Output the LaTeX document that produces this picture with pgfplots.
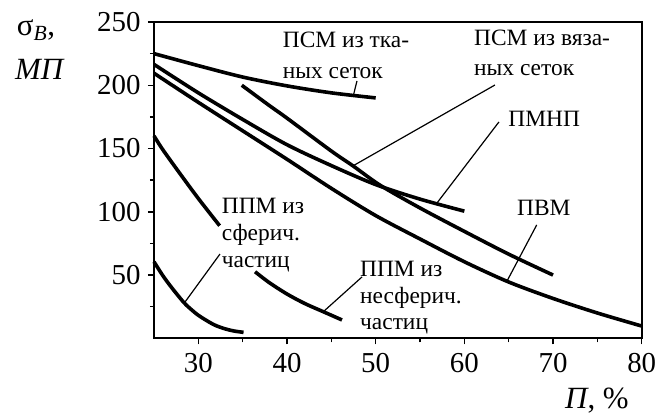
\documentclass[border=0pt]{standalone}
\usepackage{pgfplots}
\pgfplotsset{compat=1.18}
\usepackage{fontspec}
\setmainfont{Liberation Serif}
\newcommand\lab{\fontsize{23.5}{28}\selectfont}
\newcommand\axl{\fontsize{31}{36}\selectfont}
\begin{document}
\begin{tikzpicture}
\begin{axis}[
  scale only axis,
  width=487.7bp, height=316.3bp,
  xmin=25, xmax=80, ymin=0, ymax=250,
  xtick={30,40,...,80}, ytick={50,100,...,250},
  minor xtick={35,45,...,75}, minor ytick={25,75,...,225},
  tick align=outside,
  tick pos=left,
  major tick length=6bp, minor tick length=4bp,
  every tick/.style={black, line width=1.5bp},
  axis line style={line width=2bp},
  ticklabel style={font=\fontsize{29}{34}\selectfont},
  xticklabel style={yshift=-5bp},
  yticklabel style={xshift=-4bp},
  /pgf/number format/assume math mode=true,
  clip=false,
  cycle list={{black, solid, no markers}},
  every axis plot post/.append style={line width=3.6bp, smooth, no markers, black},
]
% ПСМ из тканых сеток
\addplot coordinates {(25,225) (30,215.5) (35,206.5) (40,199.5) (45,194) (50,190)};
% ПСМ из вязаных сеток
\addplot coordinates {(34.9,200) (38,184) (40,174) (45,148) (47.5,136) (50.5,121) (55,103) (60,84.5) (65,66.5) (70,50)};
% ПМНП
\addplot coordinates {(25,216.5) (30,194) (35,173) (40,153) (45,136.5) (50,121.5) (55,110) (60,100.5)};
% ПВМ
\addplot coordinates {(25,209.5) (30,186.5) (35,164) (40,141.5) (45,118.5) (50,97) (55,78.5) (60,60.5) (65,44.5) (70,31.5) (75,20) (80,9.7)};
% ППМ из несферич. частиц (two visible pieces)
\addplot coordinates {(25,160) (26,149) (28,129.5) (30,110.5) (32.4,89)};
\addplot coordinates {(36.4,52.6) (38,44) (40,35) (42,27.5) (44.1,21) (46.2,14.5)};
% ППМ из сферич. частиц
\addplot coordinates {(25,60.5) (26,49.5) (27,40) (28.3,28.8) (29,24) (30,18.2) (31.3,12.5) (32,10) (33,7.5) (34,5.8) (35.1,4.7)};

% frame
\draw[line width=2bp] (rel axis cs:0,0) rectangle (rel axis cs:1,1);

% leader lines
\draw[line width=1.2bp] (axis cs:47.89,203.4) -- (axis cs:47.50,192.3);
\draw[line width=1.2bp] (axis cs:63.45,200.2) -- (axis cs:47.47,136.4);
\draw[line width=1.2bp] (axis cs:63.90,171.0) -- (axis cs:56.91,106.9);
\draw[line width=1.2bp] (axis cs:68.16,89.6) -- (axis cs:64.77,44.7);
\draw[line width=1.2bp] (axis cs:32.44,66.6) -- (axis cs:28.50,28.7);
\draw[line width=1.2bp] (axis cs:48.46,48.5) -- (axis cs:44.06,20.8);

% labels
\node[anchor=base west, inner sep=0, font=\lab] at (axis cs:39.51,230.2) {ПСМ из тка-};
\node[anchor=base west, inner sep=0, font=\lab] at (axis cs:39.51,205.7) {ных сеток};
\node[anchor=base west, inner sep=0, font=\lab] at (axis cs:61.09,231.8) {ПСМ из вяза-};
\node[anchor=base west, inner sep=0, font=\lab] at (axis cs:61.09,208.1) {ных сеток};
\node[anchor=base west, inner sep=0, font=\lab] at (axis cs:64.95,167.2) {ПМНП};
\node[anchor=base west, inner sep=0, font=\lab] at (axis cs:65.93,96.7) {ПВМ};
\node[anchor=base west, inner sep=0, font=\lab] at (axis cs:32.63,98.8) {ППМ из};
\node[anchor=base west, inner sep=0, font=\lab] at (axis cs:32.63,77.3) {сферич.};
\node[anchor=base west, inner sep=0, font=\lab] at (axis cs:32.63,55.6) {частиц};
\node[anchor=base west, inner sep=0, font=\lab] at (axis cs:48.23,49.2) {ППМ из};
\node[anchor=base west, inner sep=0, font=\lab] at (axis cs:48.23,27.9) {несферич.};
\node[anchor=base west, inner sep=0, font=\lab] at (axis cs:48.23,6.6) {частиц};

% axis labels
\node[anchor=base west, inner sep=0, font=\axl] at (axis cs:9.52,239.7) {σ\textsubscript{\textit{B}},};
\node[anchor=base west, inner sep=0, font=\axl] at (axis cs:9.33,204.2) {\textit{МП}};
\node[anchor=base west, inner sep=0, font=\axl] at (axis cs:71.35,-55.1) {\textit{П}, \%};
\end{axis}
\pgfresetboundingbox
\path[use as bounding box] ([shift={(-154bp,-75.7bp)}]current axis.south west) rectangle ([shift={(26.3bp,22bp)}]current axis.north east);
\end{tikzpicture}
\end{document}
